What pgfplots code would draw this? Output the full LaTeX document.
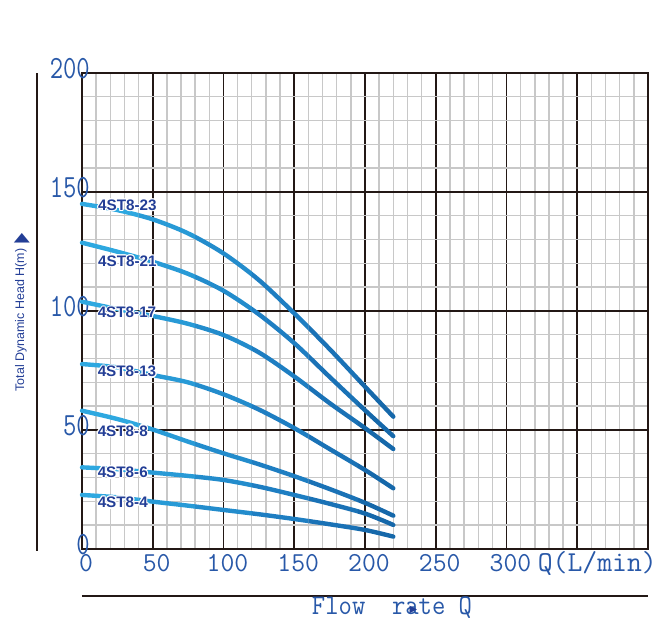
\documentclass[border=0pt]{standalone}
\usepackage{pgfplots}
\pgfplotsset{compat=1.18}
\usepackage{fontspec}
\setmainfont{Liberation Sans}
\newfontfamily\symf{DejaVu Sans}
\newcommand\monof{\ttfamily}
\definecolor{tickblue}{RGB}{40,88,168}
\definecolor{labblue}{RGB}{35,62,150}
\definecolor{gridmaj}{RGB}{35,24,21}
\definecolor{gridmin}{RGB}{200,200,200}
\definecolor{b1}{RGB}{46,168,224}
\definecolor{b2}{RGB}{40,154,214}
\definecolor{b3}{RGB}{35,140,204}
\definecolor{b4}{RGB}{30,126,194}
\definecolor{b5}{RGB}{26,114,182}
\definecolor{b6}{RGB}{22,104,170}
\newcommand\sx[1]{\scalebox{1}[1.02]{#1}}
\newcommand\sy[1]{\scalebox{1}[1.25]{#1}}
\tikzset{lbl/.style={anchor=west, inner sep=0pt, font=\bfseries\fontsize{15.3}{15.3}\selectfont},
 cv/.style={smooth, line width=4.4bp, line cap=round, line join=round}}
\newcommand\halo[3]{%
 \node[lbl,text=white,xshift=1.2bp] at (axis cs:#1,#2) {#3};
 \node[lbl,text=white,xshift=-1.2bp] at (axis cs:#1,#2) {#3};
 \node[lbl,text=white,yshift=1.2bp] at (axis cs:#1,#2) {#3};
 \node[lbl,text=white,yshift=-1.2bp] at (axis cs:#1,#2) {#3};
 \node[lbl,text=white,xshift=0.85bp,yshift=0.85bp] at (axis cs:#1,#2) {#3};
 \node[lbl,text=white,xshift=-0.85bp,yshift=0.85bp] at (axis cs:#1,#2) {#3};
 \node[lbl,text=white,xshift=0.85bp,yshift=-0.85bp] at (axis cs:#1,#2) {#3};
 \node[lbl,text=white,xshift=-0.85bp,yshift=-0.85bp] at (axis cs:#1,#2) {#3};
 \node[lbl,text=labblue] at (axis cs:#1,#2) {#3};}

\pgfplotstableread{
x y
0 145
25 142.4
50 138.5
75 132.6
100 124.2
125 113
150 99
175 84
200 68.2
220 55.6
}\curveA
\pgfplotstableread{
x y
0 128.7
25 124.9
50 120.7
75 115.6
100 108.5
125 98.6
150 86.5
175 72.3
200 58.3
220 47.4
}\curveB
\pgfplotstableread{
x y
0 103.9
25 100.8
50 97.9
75 94.6
100 89.9
125 82.6
150 72.5
175 61.3
200 50.8
220 42
}\curveC
\pgfplotstableread{
x y
0 77.7
25 76.3
50 73.1
75 70.0
100 65.0
125 58.6
150 50.8
175 42.0
200 33.2
220 25.5
}\curveD
\pgfplotstableread{
x y
0 58.1
25 54.6
50 50.2
75 45.1
100 40.2
125 35.6
150 30.6
175 25.2
200 19.4
220 14.0
}\curveE
\pgfplotstableread{
x y
0 34.3
25 33.5
50 32.1
75 30.7
100 29
125 26.2
150 22.7
175 19.0
200 14.9
220 10.1
}\curveF
\pgfplotstableread{
x y
0 22.7
25 21.7
50 19.9
75 18.2
100 16.4
125 14.6
150 12.6
175 10.4
200 8
220 5.2
}\curveG

\newcommand\band[3]{%
 \begin{scope}
 \clip (axis cs:#1,-5) rectangle (axis cs:#2,205);
 \addplot[cv,#3] table[x=x,y=y] {\curveA};
 \addplot[cv,#3] table[x=x,y=y] {\curveB};
 \addplot[cv,#3] table[x=x,y=y] {\curveC};
 \addplot[cv,#3] table[x=x,y=y] {\curveD};
 \addplot[cv,#3] table[x=x,y=y] {\curveE};
 \addplot[cv,#3] table[x=x,y=y] {\curveF};
 \addplot[cv,#3] table[x=x,y=y] {\curveG};
 \end{scope}}

\begin{document}
\begin{tikzpicture}
\begin{axis}[
 scale only axis, width=566bp, height=476bp,
 xmin=0, xmax=400, ymin=0, ymax=200,
 xtick={0,50,...,400}, ytick={0,50,...,200},
 minor x tick num=4, minor y tick num=4,
 grid=both,
 major grid style={gridmaj, line width=1.9bp},
 minor grid style={gridmin, line width=1.4bp},
 major tick length=0pt, minor tick length=0pt,
 axis line style={gridmaj, line width=2.4bp},
 xticklabels={\sx{0},\sx{50},\sx{100},\sx{150},\sx{200},\sx{250},\sx{300},{},{}},
 xticklabel style={font=\monof\fontsize{27}{27}\selectfont, text=tickblue, anchor=base, inner sep=0pt, yshift=-22.7bp, xshift=4bp},
 yticklabels={\sy{0},\sy{50},\sy{100},\sy{150},\sy{200}},
 yticklabel style={font=\monof\fontsize{26}{26}\selectfont, text=tickblue, anchor=base east, inner sep=0pt, xshift=8bp, yshift=-6bp},
 clip=false,
]
\path (axis cs:-57.95,-36.13) rectangle (axis cs:408.48,230.67);
\band{-5}{40}{b1}
\band{40}{80}{b2}
\band{80}{120}{b3}
\band{120}{160}{b4}
\band{160}{195}{b5}
\band{195}{230}{b6}

\halo{11.3}{144.5}{4ST8-23}
\halo{11.3}{121}{4ST8-21}
\halo{11.0}{99.3}{4ST8-17}
\halo{11.0}{74.5}{4ST8-13}
\halo{11.0}{49.6}{4ST8-8}
\halo{11.0}{32.1}{4ST8-6}
\halo{11.0}{19.5}{4ST8-4}

\draw[gridmaj, line width=2.5bp] (axis cs:-31.8,-0.8) -- (axis cs:-31.8,200);
\draw[gridmaj, line width=2.5bp] (axis cs:0,-19.75) -- (axis cs:400,-19.75);

\node[overlay, font=\monof\fontsize{27.6}{27.6}\selectfont, text=tickblue, anchor=base west, inner sep=0pt] at (axis cs:322,-9.66) {\scalebox{1.05}[1.05]{Q(L/min)}};
\node[font=\monof\fontsize{26}{26}\selectfont, text=tickblue, anchor=base, inner sep=0pt] at (axis cs:219.1,-27.4) {\scalebox{1}[1.1]{Flow\ \ rate Q}};
\node[font=\symf\fontsize{10}{10}\selectfont, text=labblue, inner sep=0pt] at (axis cs:234.3,-25.6) {▶};
\node[rotate=90, font=\fontsize{12.5}{12.5}\selectfont, text=labblue, inner sep=0pt] at (axis cs:-43.1,96.2) {Total Dynamic Head H(m)};
\node[font=\symf\fontsize{21}{21}\selectfont, text=labblue, inner sep=0pt] at (axis cs:-42.4,130.7) {\scalebox{1}[0.6]{▲}};
\end{axis}
\end{tikzpicture}
\end{document}
